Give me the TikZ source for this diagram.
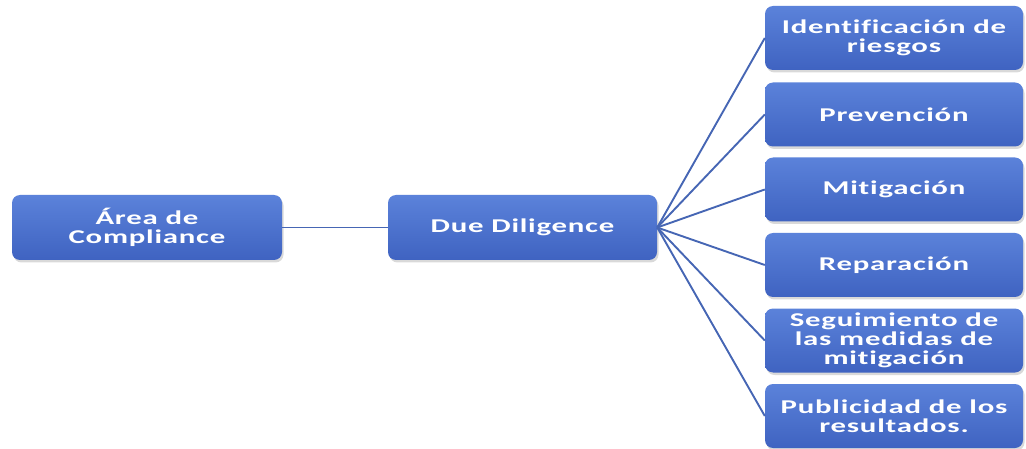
\documentclass[tikz,border=0pt]{standalone}
\usepackage{fontspec}
\setmainfont{Carlito}[FakeStretch=1.58,LetterSpace=4,Ligatures=NoCommon]
\usetikzlibrary{shadows}
\definecolor{boxtop}{HTML}{5B82DA}
\definecolor{boxbot}{HTML}{3F63C1}
\definecolor{linec}{HTML}{4666B4}
\tikzset{
  blbox/.style={rectangle, rounded corners=8pt, top color=boxtop, bottom color=boxbot,
    draw=none, text=white, font=\fontsize{19.5}{19}\selectfont\bfseries, align=center,
    inner sep=0pt, drop shadow={opacity=0.3, shadow xshift=1.5pt, shadow yshift=-2.5pt}},
  conn/.style={draw=linec, line width=1.9pt}
}
\begin{document}
\begin{tikzpicture}[x=1pt,y=-1pt]
\useasboundingbox (0,0) rectangle (1026,449);
\node[blbox, minimum width=270pt, minimum height=65pt] (A) at (147,227.5) {Área de\\Compliance};
\node[blbox, minimum width=269pt, minimum height=65pt] (B) at (522.5,227.5) {Due Diligence};
\node[blbox, minimum width=258pt, minimum height=64pt] (R1) at (894,38) {Identificación de\\riesgos};
\node[blbox, minimum width=258pt, minimum height=64pt] (R2) at (894,114.5) {Prevención};
\node[blbox, minimum width=258pt, minimum height=64pt] (R3) at (894,189.5) {Mitigación};
\node[blbox, minimum width=258pt, minimum height=64pt] (R4) at (894,265) {Reparación};
\node[blbox, minimum width=258pt, minimum height=64pt] (R5) at (894,340.5) {Seguimiento de\\las medidas de\\mitigación};
\node[blbox, minimum width=258pt, minimum height=64pt] (R6) at (894,416) {Publicidad de los\\resultados.};
\draw[conn] (A.east) -- (B.west);
\foreach \r in {R1,R2,R3,R4,R5,R6}{\draw[conn] (B.east) -- (\r.west);}
\end{tikzpicture}
\end{document}
